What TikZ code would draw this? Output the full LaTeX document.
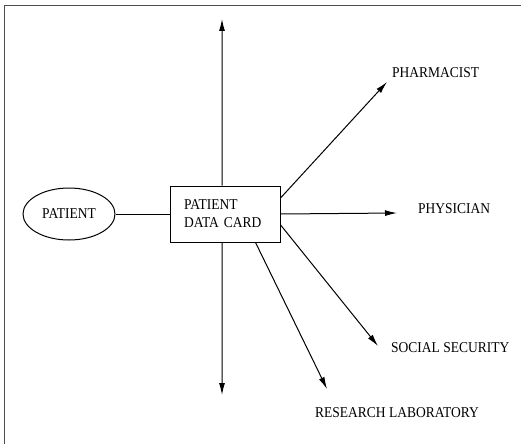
\documentclass[tikz,border=0pt]{standalone}
\usepackage{fontspec}
\setmainfont[FakeStretch=0.9]{Liberation Serif}
\usetikzlibrary{arrows.meta,shapes.geometric}
\begin{document}
\begin{tikzpicture}[x=1pt,y=-1pt,
  lbl/.style={inner sep=0pt,font=\fontsize{15}{18}\selectfont},
  conn/.style={line width=1pt,-{Latex[length=12pt,width=6pt]}},
  plain/.style={line width=1pt}]
\useasboundingbox (0,0) rectangle (521,444);
\draw[line width=1pt,black!70] (4,444) -- (4,6) -- (521,6);
\node[ellipse,draw,line width=1pt,minimum width=92pt,minimum height=52pt,inner sep=0pt,
  font=\fontsize{15}{18}\selectfont] (patient) at (69,214) {PATIENT};
\node[rectangle,draw,line width=0.9pt,minimum width=110pt,minimum height=56pt,inner sep=0pt,
  text width=82pt,align=left,font=\fontsize{15}{18}\selectfont] (card) at (225,214) {PATIENT\\DATA CARD};
\node[lbl,anchor=base west] (pharm) at (392,77) {PHARMACIST};
\node[lbl,anchor=base west] (phys) at (418,213) {PHYSICIAN};
\node[lbl,anchor=base west] (soc) at (391,352) {SOCIAL SECURITY};
\node[lbl,anchor=base west] (res) at (315,417) {RESEARCH LABORATORY};
\coordinate (tup) at (222,19);
\coordinate (tdown) at (222,395);
\coordinate (tpharm) at (387,82);
\coordinate (tphys) at (397,213);
\coordinate (tsoc) at (378,346);
\coordinate (tres) at (327,389);
\draw[plain] (patient.east) -- (card.west);
\draw[conn] (card.96) -- (tup);
\draw[conn] (card.264) -- (tdown);
\draw[conn] (card.16) -- (tpharm);
\draw[conn] (card.east) -- (tphys);
\draw[conn] (card.-11) -- (tsoc);
\draw[conn] (card.-43) -- (tres);
\end{tikzpicture}
\end{document}
